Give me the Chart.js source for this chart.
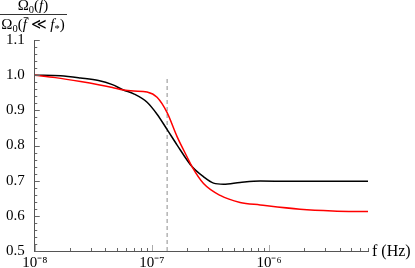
<!DOCTYPE html>
<html lang="en">
<head>
<meta charset="UTF-8">
<script src="https://cdn.jsdelivr.net/npm/chart.js"></script>
<title>Omega ratio</title>
<style>
  html, body { margin: 0; padding: 0; background: #fff; overflow: hidden; }
  #wrap { width: 415px; height: 268px; }
</style>
</head>
<body>
<div id="wrap"><canvas id="chart" width="415" height="268"></canvas></div>
<script>
// data
var blackFreq = [1e-8, 1.66e-8, 2.46e-8, 3.5e-8, 4.6e-8, 5.71e-8, 7.0e-8, 9.1e-8, 1.107e-7, 1.346e-7,
                 1.637e-7, 2.2e-7, 2.76e-7, 3.36e-7, 4.09e-7, 5.66e-7, 8.4e-7, 1.5e-6, 3e-6, 7e-6];
var blackVals = [1.000, 0.998, 0.992, 0.985, 0.973, 0.958, 0.947, 0.923, 0.889, 0.846,
                 0.802, 0.740, 0.711, 0.693, 0.690, 0.695, 0.699, 0.698, 0.698, 0.698];
var redFreq = [1e-8, 1.5e-8, 2.46e-8, 3.5e-8, 4.6e-8, 5.71e-8, 7.0e-8, 9.1e-8, 1.107e-7, 1.346e-7,
               1.637e-7, 1.994e-7, 2.2e-7, 2.76e-7, 3.83e-7, 5.66e-7, 8.4e-7, 1.84e-6, 3.5e-6, 7e-6];
var redVals = [1.000, 0.993, 0.982, 0.973, 0.965, 0.958, 0.955, 0.952, 0.937, 0.894,
               0.826, 0.768, 0.740, 0.692, 0.658, 0.638, 0.631, 0.619, 0.614, 0.612];
var markerFreq = 1.35e-7;
var markerRange = [0.5, 0.997];
var xMajorTicks = [1e-8, 1e-7, 1e-6];
var xTickLabels = ['10\u207B\u2078', '10\u207B\u2077', '10\u207B\u2076'];
var yMajorTicks = [0.5, 0.6, 0.7, 0.8, 0.9, 1.0, 1.1];
var xMin = 1e-8, xMax = 7e-6;

function pts(xs, ys) {
  return xs.map(function (x, i) { return { x: x, y: ys[i] }; });
}

var SERIF = "'Liberation Serif', serif";

// draws a run of text pieces (normal / italic / subscript / overline)
function drawRuns(ctx, runs, cx, baseline, size) {
  var w = 0;
  runs.forEach(function (r) {
    ctx.font = (r.it ? 'italic ' : '') + (r.sub ? size * 0.7 : size) + 'px ' + SERIF;
    r.w = ctx.measureText(r.t).width;
    w += r.w;
  });
  var x = cx - w / 2;
  runs.forEach(function (r) {
    ctx.font = (r.it ? 'italic ' : '') + (r.sub ? size * 0.7 : size) + 'px ' + SERIF;
    var y = r.sub ? baseline + size * 0.22 : baseline;
    ctx.fillText(r.t, x, y);
    if (r.bar) {
      ctx.beginPath();
      ctx.moveTo(x + 1, baseline - size * 0.76);
      ctx.lineTo(x + r.w + 1.5, baseline - size * 0.76);
      ctx.lineWidth = 0.8;
      ctx.stroke();
    }
    x += r.w;
  });
  return w;
}

var decorations = {
  id: 'decorations',
  afterDraw: function (chart) {
    var ctx = chart.ctx, xs = chart.scales.x, ys = chart.scales.y;
    var area = chart.chartArea;
    ctx.save();
    ctx.strokeStyle = '#666';
    ctx.lineWidth = 1;
    // inward y ticks
    for (var i = 0; i <= 30; i++) {
      var v = 0.5 + i * 0.02;
      var py = Math.round(ys.getPixelForValue(v)) + 0.5;
      var len = (i % 5 === 0) ? 5 : 2.5;
      ctx.beginPath();
      ctx.moveTo(area.left, py);
      ctx.lineTo(area.left + len, py);
      ctx.stroke();
    }
    // inward x ticks
    for (var d = -8; d <= -6; d++) {
      for (var m = 1; m <= 9; m++) {
        var f = m * Math.pow(10, d);
        if (f > xMax * 1.0001) break;
        var px = Math.round(xs.getPixelForValue(f)) + 0.5;
        var l = (m === 1) ? 6 : 3;
        ctx.strokeStyle = (m === 1) ? '#aaa' : '#666';
        ctx.beginPath();
        ctx.moveTo(px, area.bottom);
        ctx.lineTo(px, area.bottom - l);
        ctx.stroke();
      }
    }
    // axis title (fraction)
    ctx.fillStyle = '#000';
    ctx.strokeStyle = '#000';
    ctx.textBaseline = 'alphabetic';
    ctx.textAlign = 'left';
    drawRuns(ctx, [{ t: '\u03A9' }, { t: '0', sub: true }, { t: '(' }, { t: 'f', it: true }, { t: ')' }], 33, 10, 15);
    ctx.beginPath();
    ctx.moveTo(0, 14.5);
    ctx.lineTo(67, 14.5);
    ctx.lineWidth = 0.8;
    ctx.stroke();
    drawRuns(ctx, [{ t: '\u03A9' }, { t: '0', sub: true }, { t: '(' }, { t: 'f', it: true, bar: true },
                   { t: ' \u226A ' }, { t: 'f', it: true }, { t: '*', sub: true }, { t: ')' }], 33, 29, 15);
    // x axis title
    ctx.font = '16px ' + SERIF;
    ctx.fillText('f (Hz)', 372, area.bottom + 5);
    ctx.restore();
  }
};

new Chart(document.getElementById('chart'), {
  type: 'line',
  data: {
    datasets: [
      { data: pts(redFreq, redVals), borderColor: '#ff0000', borderWidth: 1.5, pointRadius: 0,
        cubicInterpolationMode: 'monotone', fill: false },
      { data: pts(blackFreq, blackVals), borderColor: '#000000', borderWidth: 1.5, pointRadius: 0,
        cubicInterpolationMode: 'monotone', fill: false },
      { data: [{ x: markerFreq, y: markerRange[0] }, { x: markerFreq, y: markerRange[1] }],
        borderColor: '#a8a8a8', borderWidth: 1.3, borderDash: [4, 3], pointRadius: 0, fill: false }
    ]
  },
  options: {
    responsive: false,
    animation: false,
    layout: { padding: { left: 4, right: 47, top: 40, bottom: 0 } },
    plugins: { legend: { display: false }, tooltip: { enabled: false } },
    scales: {
      x: {
        type: 'logarithmic',
        min: xMin, max: xMax,
        grid: { display: false },
        border: { display: true, color: '#555', width: 1 },
        afterBuildTicks: function (s) { s.ticks = xMajorTicks.map(function (v) { return { value: v }; }); },
        ticks: {
          autoSkip: false, maxRotation: 0, padding: -3,
          color: '#000', font: { family: SERIF, size: 15, lineHeight: 1 },
          callback: function (v) { var i = xMajorTicks.indexOf(v); return i >= 0 ? xTickLabels[i] : ''; }
        }
      },
      y: {
        type: 'linear',
        min: 0.5, max: 1.1,
        grid: { display: false },
        border: { display: true, color: '#555', width: 1 },
        afterBuildTicks: function (s) { s.ticks = yMajorTicks.map(function (v) { return { value: v }; }); },
        ticks: {
          padding: 2, color: '#000', font: { family: SERIF, size: 15 },
          callback: function (v) { return v.toFixed(1); }
        }
      }
    }
  },
  plugins: [decorations]
});
</script>
</body>
</html>
